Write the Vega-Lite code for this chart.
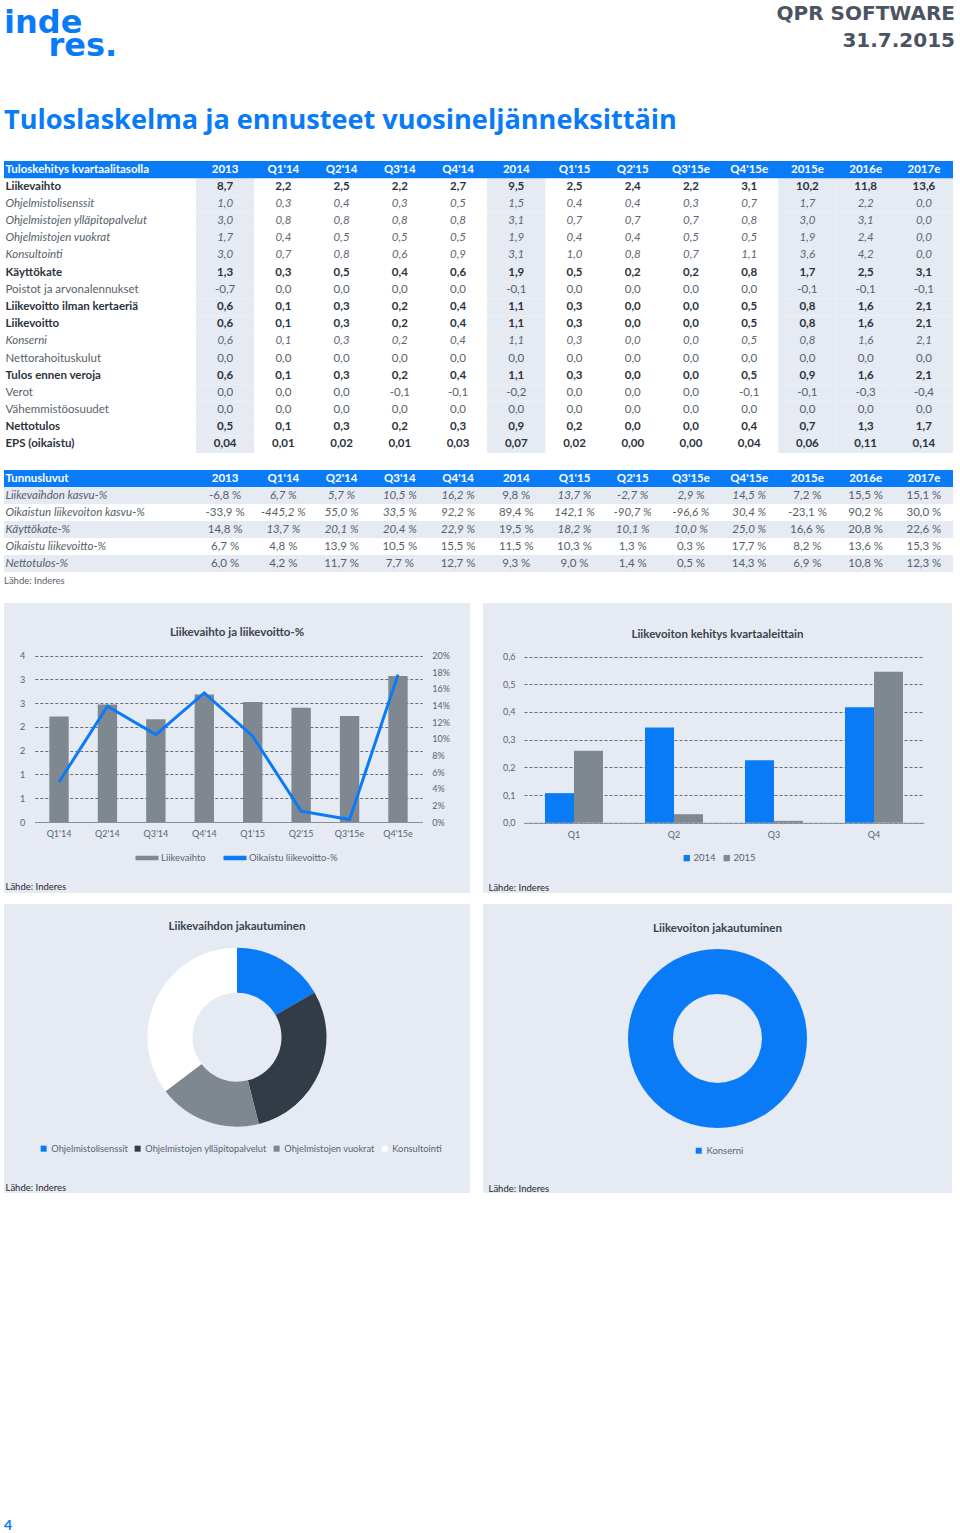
{
  "$schema": "https://vega.github.io/schema/vega-lite/v6.json",
  "padding": {"top": 3, "left": 4, "right": 0, "bottom": 0},
  "background": "white",
  "spacing": 17,
  "resolve": {"scale": {"color": "independent"}, "legend": {"color": "independent"}},
  "config": {
    "font": "Lato",
    "view": {"stroke": null},
    "locale": {"number": {"decimal": ",", "thousands": "\u00a0", "grouping": [3], "currency": ["", "\u00a0€"], "minus": "-", "percent": "\u00a0%"}}
  },
  "vconcat": [
    {
      "spacing": 13,
      "resolve": {"scale": {"color": "independent"}, "legend": {"color": "independent"}},
      "hconcat": [
        {
          "width": 470, "height": 28,
          "data": {"values": []},
          "mark": "text",
          "encoding": {},
          "title": {"text": ["inde", "\u200b\u00a0\u00a0\u00a0\u00a0res."], "anchor": "start", "frame": "group", "font": "DejaVu Sans", "fontSize": 32, "fontWeight": "bold", "color": "#0a7bf7", "lineHeight": 23.3, "offset": 0, "dy": 2}
        },
        {
          "width": 468, "height": 28,
          "data": {"values": []},
          "mark": "text",
          "encoding": {},
          "title": {"text": ["QPR SOFTWARE", "31.7.2015"], "anchor": "end", "frame": "group", "font": "DejaVu Sans", "fontSize": 20, "fontWeight": "bold", "color": "#4b5460", "lineHeight": 27.4, "offset": 10}
        }
      ]
    },
    {
      "width": 949, "height": 292,
      "title": {"text": "Tuloslaskelma ja ennusteet vuosineljänneksittäin", "anchor": "start", "frame": "group", "font": "Open Sans", "fontSize": 27.1, "fontWeight": "bold", "color": "#0a7bf7", "offset": 26},
      "data": {"values": [
        {"i":"Liikevaihto","p":"2013","v":8.7},{"i":"Liikevaihto","p":"Q1'14","v":2.2},{"i":"Liikevaihto","p":"Q2'14","v":2.5},{"i":"Liikevaihto","p":"Q3'14","v":2.2},{"i":"Liikevaihto","p":"Q4'14","v":2.7},{"i":"Liikevaihto","p":"2014","v":9.5},{"i":"Liikevaihto","p":"Q1'15","v":2.5},{"i":"Liikevaihto","p":"Q2'15","v":2.4},{"i":"Liikevaihto","p":"Q3'15e","v":2.2},{"i":"Liikevaihto","p":"Q4'15e","v":3.1},{"i":"Liikevaihto","p":"2015e","v":10.2},{"i":"Liikevaihto","p":"2016e","v":11.8},{"i":"Liikevaihto","p":"2017e","v":13.6},
        {"i":"Ohjelmistolisenssit","p":"2013","v":1.0},{"i":"Ohjelmistolisenssit","p":"Q1'14","v":0.3},{"i":"Ohjelmistolisenssit","p":"Q2'14","v":0.4},{"i":"Ohjelmistolisenssit","p":"Q3'14","v":0.3},{"i":"Ohjelmistolisenssit","p":"Q4'14","v":0.5},{"i":"Ohjelmistolisenssit","p":"2014","v":1.5},{"i":"Ohjelmistolisenssit","p":"Q1'15","v":0.4},{"i":"Ohjelmistolisenssit","p":"Q2'15","v":0.4},{"i":"Ohjelmistolisenssit","p":"Q3'15e","v":0.3},{"i":"Ohjelmistolisenssit","p":"Q4'15e","v":0.7},{"i":"Ohjelmistolisenssit","p":"2015e","v":1.7},{"i":"Ohjelmistolisenssit","p":"2016e","v":2.2},{"i":"Ohjelmistolisenssit","p":"2017e","v":0.0},
        {"i":"Ohjelmistojen ylläpitopalvelut","p":"2013","v":3.0},{"i":"Ohjelmistojen ylläpitopalvelut","p":"Q1'14","v":0.8},{"i":"Ohjelmistojen ylläpitopalvelut","p":"Q2'14","v":0.8},{"i":"Ohjelmistojen ylläpitopalvelut","p":"Q3'14","v":0.8},{"i":"Ohjelmistojen ylläpitopalvelut","p":"Q4'14","v":0.8},{"i":"Ohjelmistojen ylläpitopalvelut","p":"2014","v":3.1},{"i":"Ohjelmistojen ylläpitopalvelut","p":"Q1'15","v":0.7},{"i":"Ohjelmistojen ylläpitopalvelut","p":"Q2'15","v":0.7},{"i":"Ohjelmistojen ylläpitopalvelut","p":"Q3'15e","v":0.7},{"i":"Ohjelmistojen ylläpitopalvelut","p":"Q4'15e","v":0.8},{"i":"Ohjelmistojen ylläpitopalvelut","p":"2015e","v":3.0},{"i":"Ohjelmistojen ylläpitopalvelut","p":"2016e","v":3.1},{"i":"Ohjelmistojen ylläpitopalvelut","p":"2017e","v":0.0},
        {"i":"Ohjelmistojen vuokrat","p":"2013","v":1.7},{"i":"Ohjelmistojen vuokrat","p":"Q1'14","v":0.4},{"i":"Ohjelmistojen vuokrat","p":"Q2'14","v":0.5},{"i":"Ohjelmistojen vuokrat","p":"Q3'14","v":0.5},{"i":"Ohjelmistojen vuokrat","p":"Q4'14","v":0.5},{"i":"Ohjelmistojen vuokrat","p":"2014","v":1.9},{"i":"Ohjelmistojen vuokrat","p":"Q1'15","v":0.4},{"i":"Ohjelmistojen vuokrat","p":"Q2'15","v":0.4},{"i":"Ohjelmistojen vuokrat","p":"Q3'15e","v":0.5},{"i":"Ohjelmistojen vuokrat","p":"Q4'15e","v":0.5},{"i":"Ohjelmistojen vuokrat","p":"2015e","v":1.9},{"i":"Ohjelmistojen vuokrat","p":"2016e","v":2.4},{"i":"Ohjelmistojen vuokrat","p":"2017e","v":0.0},
        {"i":"Konsultointi","p":"2013","v":3.0},{"i":"Konsultointi","p":"Q1'14","v":0.7},{"i":"Konsultointi","p":"Q2'14","v":0.8},{"i":"Konsultointi","p":"Q3'14","v":0.6},{"i":"Konsultointi","p":"Q4'14","v":0.9},{"i":"Konsultointi","p":"2014","v":3.1},{"i":"Konsultointi","p":"Q1'15","v":1.0},{"i":"Konsultointi","p":"Q2'15","v":0.8},{"i":"Konsultointi","p":"Q3'15e","v":0.7},{"i":"Konsultointi","p":"Q4'15e","v":1.1},{"i":"Konsultointi","p":"2015e","v":3.6},{"i":"Konsultointi","p":"2016e","v":4.2},{"i":"Konsultointi","p":"2017e","v":0.0},
        {"i":"Käyttökate","p":"2013","v":1.3},{"i":"Käyttökate","p":"Q1'14","v":0.3},{"i":"Käyttökate","p":"Q2'14","v":0.5},{"i":"Käyttökate","p":"Q3'14","v":0.4},{"i":"Käyttökate","p":"Q4'14","v":0.6},{"i":"Käyttökate","p":"2014","v":1.9},{"i":"Käyttökate","p":"Q1'15","v":0.5},{"i":"Käyttökate","p":"Q2'15","v":0.2},{"i":"Käyttökate","p":"Q3'15e","v":0.2},{"i":"Käyttökate","p":"Q4'15e","v":0.8},{"i":"Käyttökate","p":"2015e","v":1.7},{"i":"Käyttökate","p":"2016e","v":2.5},{"i":"Käyttökate","p":"2017e","v":3.1},
        {"i":"Poistot ja arvonalennukset","p":"2013","v":-0.7},{"i":"Poistot ja arvonalennukset","p":"Q1'14","v":0.0},{"i":"Poistot ja arvonalennukset","p":"Q2'14","v":0.0},{"i":"Poistot ja arvonalennukset","p":"Q3'14","v":0.0},{"i":"Poistot ja arvonalennukset","p":"Q4'14","v":0.0},{"i":"Poistot ja arvonalennukset","p":"2014","v":-0.1},{"i":"Poistot ja arvonalennukset","p":"Q1'15","v":0.0},{"i":"Poistot ja arvonalennukset","p":"Q2'15","v":0.0},{"i":"Poistot ja arvonalennukset","p":"Q3'15e","v":0.0},{"i":"Poistot ja arvonalennukset","p":"Q4'15e","v":0.0},{"i":"Poistot ja arvonalennukset","p":"2015e","v":-0.1},{"i":"Poistot ja arvonalennukset","p":"2016e","v":-0.1},{"i":"Poistot ja arvonalennukset","p":"2017e","v":-0.1},
        {"i":"Liikevoitto ilman kertaeriä","p":"2013","v":0.6},{"i":"Liikevoitto ilman kertaeriä","p":"Q1'14","v":0.1},{"i":"Liikevoitto ilman kertaeriä","p":"Q2'14","v":0.3},{"i":"Liikevoitto ilman kertaeriä","p":"Q3'14","v":0.2},{"i":"Liikevoitto ilman kertaeriä","p":"Q4'14","v":0.4},{"i":"Liikevoitto ilman kertaeriä","p":"2014","v":1.1},{"i":"Liikevoitto ilman kertaeriä","p":"Q1'15","v":0.3},{"i":"Liikevoitto ilman kertaeriä","p":"Q2'15","v":0.0},{"i":"Liikevoitto ilman kertaeriä","p":"Q3'15e","v":0.0},{"i":"Liikevoitto ilman kertaeriä","p":"Q4'15e","v":0.5},{"i":"Liikevoitto ilman kertaeriä","p":"2015e","v":0.8},{"i":"Liikevoitto ilman kertaeriä","p":"2016e","v":1.6},{"i":"Liikevoitto ilman kertaeriä","p":"2017e","v":2.1},
        {"i":"Liikevoitto","p":"2013","v":0.6},{"i":"Liikevoitto","p":"Q1'14","v":0.1},{"i":"Liikevoitto","p":"Q2'14","v":0.3},{"i":"Liikevoitto","p":"Q3'14","v":0.2},{"i":"Liikevoitto","p":"Q4'14","v":0.4},{"i":"Liikevoitto","p":"2014","v":1.1},{"i":"Liikevoitto","p":"Q1'15","v":0.3},{"i":"Liikevoitto","p":"Q2'15","v":0.0},{"i":"Liikevoitto","p":"Q3'15e","v":0.0},{"i":"Liikevoitto","p":"Q4'15e","v":0.5},{"i":"Liikevoitto","p":"2015e","v":0.8},{"i":"Liikevoitto","p":"2016e","v":1.6},{"i":"Liikevoitto","p":"2017e","v":2.1},
        {"i":"Konserni","p":"2013","v":0.6},{"i":"Konserni","p":"Q1'14","v":0.1},{"i":"Konserni","p":"Q2'14","v":0.3},{"i":"Konserni","p":"Q3'14","v":0.2},{"i":"Konserni","p":"Q4'14","v":0.4},{"i":"Konserni","p":"2014","v":1.1},{"i":"Konserni","p":"Q1'15","v":0.3},{"i":"Konserni","p":"Q2'15","v":0.0},{"i":"Konserni","p":"Q3'15e","v":0.0},{"i":"Konserni","p":"Q4'15e","v":0.5},{"i":"Konserni","p":"2015e","v":0.8},{"i":"Konserni","p":"2016e","v":1.6},{"i":"Konserni","p":"2017e","v":2.1},
        {"i":"Nettorahoituskulut","p":"2013","v":0.0},{"i":"Nettorahoituskulut","p":"Q1'14","v":0.0},{"i":"Nettorahoituskulut","p":"Q2'14","v":0.0},{"i":"Nettorahoituskulut","p":"Q3'14","v":0.0},{"i":"Nettorahoituskulut","p":"Q4'14","v":0.0},{"i":"Nettorahoituskulut","p":"2014","v":0.0},{"i":"Nettorahoituskulut","p":"Q1'15","v":0.0},{"i":"Nettorahoituskulut","p":"Q2'15","v":0.0},{"i":"Nettorahoituskulut","p":"Q3'15e","v":0.0},{"i":"Nettorahoituskulut","p":"Q4'15e","v":0.0},{"i":"Nettorahoituskulut","p":"2015e","v":0.0},{"i":"Nettorahoituskulut","p":"2016e","v":0.0},{"i":"Nettorahoituskulut","p":"2017e","v":0.0},
        {"i":"Tulos ennen veroja","p":"2013","v":0.6},{"i":"Tulos ennen veroja","p":"Q1'14","v":0.1},{"i":"Tulos ennen veroja","p":"Q2'14","v":0.3},{"i":"Tulos ennen veroja","p":"Q3'14","v":0.2},{"i":"Tulos ennen veroja","p":"Q4'14","v":0.4},{"i":"Tulos ennen veroja","p":"2014","v":1.1},{"i":"Tulos ennen veroja","p":"Q1'15","v":0.3},{"i":"Tulos ennen veroja","p":"Q2'15","v":0.0},{"i":"Tulos ennen veroja","p":"Q3'15e","v":0.0},{"i":"Tulos ennen veroja","p":"Q4'15e","v":0.5},{"i":"Tulos ennen veroja","p":"2015e","v":0.9},{"i":"Tulos ennen veroja","p":"2016e","v":1.6},{"i":"Tulos ennen veroja","p":"2017e","v":2.1},
        {"i":"Verot","p":"2013","v":0.0},{"i":"Verot","p":"Q1'14","v":0.0},{"i":"Verot","p":"Q2'14","v":0.0},{"i":"Verot","p":"Q3'14","v":-0.1},{"i":"Verot","p":"Q4'14","v":-0.1},{"i":"Verot","p":"2014","v":-0.2},{"i":"Verot","p":"Q1'15","v":0.0},{"i":"Verot","p":"Q2'15","v":0.0},{"i":"Verot","p":"Q3'15e","v":0.0},{"i":"Verot","p":"Q4'15e","v":-0.1},{"i":"Verot","p":"2015e","v":-0.1},{"i":"Verot","p":"2016e","v":-0.3},{"i":"Verot","p":"2017e","v":-0.4},
        {"i":"Vähemmistöosuudet","p":"2013","v":0.0},{"i":"Vähemmistöosuudet","p":"Q1'14","v":0.0},{"i":"Vähemmistöosuudet","p":"Q2'14","v":0.0},{"i":"Vähemmistöosuudet","p":"Q3'14","v":0.0},{"i":"Vähemmistöosuudet","p":"Q4'14","v":0.0},{"i":"Vähemmistöosuudet","p":"2014","v":0.0},{"i":"Vähemmistöosuudet","p":"Q1'15","v":0.0},{"i":"Vähemmistöosuudet","p":"Q2'15","v":0.0},{"i":"Vähemmistöosuudet","p":"Q3'15e","v":0.0},{"i":"Vähemmistöosuudet","p":"Q4'15e","v":0.0},{"i":"Vähemmistöosuudet","p":"2015e","v":0.0},{"i":"Vähemmistöosuudet","p":"2016e","v":0.0},{"i":"Vähemmistöosuudet","p":"2017e","v":0.0},
        {"i":"Nettotulos","p":"2013","v":0.5},{"i":"Nettotulos","p":"Q1'14","v":0.1},{"i":"Nettotulos","p":"Q2'14","v":0.3},{"i":"Nettotulos","p":"Q3'14","v":0.2},{"i":"Nettotulos","p":"Q4'14","v":0.3},{"i":"Nettotulos","p":"2014","v":0.9},{"i":"Nettotulos","p":"Q1'15","v":0.2},{"i":"Nettotulos","p":"Q2'15","v":0.0},{"i":"Nettotulos","p":"Q3'15e","v":0.0},{"i":"Nettotulos","p":"Q4'15e","v":0.4},{"i":"Nettotulos","p":"2015e","v":0.7},{"i":"Nettotulos","p":"2016e","v":1.3},{"i":"Nettotulos","p":"2017e","v":1.7},
        {"i":"EPS (oikaistu)","p":"2013","v":0.04},{"i":"EPS (oikaistu)","p":"Q1'14","v":0.01},{"i":"EPS (oikaistu)","p":"Q2'14","v":0.02},{"i":"EPS (oikaistu)","p":"Q3'14","v":0.01},{"i":"EPS (oikaistu)","p":"Q4'14","v":0.03},{"i":"EPS (oikaistu)","p":"2014","v":0.07},{"i":"EPS (oikaistu)","p":"Q1'15","v":0.02},{"i":"EPS (oikaistu)","p":"Q2'15","v":0.0},{"i":"EPS (oikaistu)","p":"Q3'15e","v":0.0},{"i":"EPS (oikaistu)","p":"Q4'15e","v":0.04},{"i":"EPS (oikaistu)","p":"2015e","v":0.06},{"i":"EPS (oikaistu)","p":"2016e","v":0.11},{"i":"EPS (oikaistu)","p":"2017e","v":0.14}
      ]},
      "layer": [
        {
          "transform": [{"filter": {"field": "p", "oneOf": ["2013", "2014", "2015e", "2016e", "2017e"]}}],
          "mark": {"type": "rect", "color": "#e5eaf3"},
          "encoding": {
            "x": {"field": "p", "type": "nominal", "scale": {"type": "band", "domain": ["2013","Q1'14","Q2'14","Q3'14","Q4'14","2014","Q1'15","Q2'15","Q3'15e","Q4'15e","2015e","2016e","2017e"], "range": [192, 949], "paddingInner": 0, "paddingOuter": 0},
              "axis": {"orient": "top", "offset": -8.6, "title": null, "domain": false, "ticks": false, "tickSize": 0, "labelPadding": 0, "labelBaseline": "middle", "labelColor": "white", "labelFontWeight": "bold", "labelFontSize": 11.5, "labelAngle": 0, "grid": false, "zindex": 1}},
            "y": {"field": "i", "type": "nominal", "scale": {"type": "band", "domain": ["Tuloskehitys kvartaalitasolla","Liikevaihto","Ohjelmistolisenssit","Ohjelmistojen ylläpitopalvelut","Ohjelmistojen vuokrat","Konsultointi","Käyttökate","Poistot ja arvonalennukset","Liikevoitto ilman kertaeriä","Liikevoitto","Konserni","Nettorahoituskulut","Tulos ennen veroja","Verot","Vähemmistöosuudet","Nettotulos","EPS (oikaistu)"], "paddingInner": 0, "paddingOuter": 0},
              "axis": {"orient": "left", "offset": -1, "title": null, "domain": false, "ticks": false, "tickSize": 0, "labelPadding": 0, "labelAlign": "left", "labelBaseline": "middle", "labelFontSize": 11.5, "labelLimit": 300, "grid": false, "zindex": 1,
                "labelColor": {"condition": [{"test": "datum.value === 'Tuloskehitys kvartaalitasolla'", "value": "white"}, {"test": "indexof(['Liikevaihto','Käyttökate','Liikevoitto ilman kertaeriä','Liikevoitto','Tulos ennen veroja','Nettotulos','EPS (oikaistu)'], datum.value) >= 0", "value": "#2c333c"}], "value": "#555f6a"},
                "labelFontWeight": {"condition": {"test": "indexof(['Tuloskehitys kvartaalitasolla','Liikevaihto','Käyttökate','Liikevoitto ilman kertaeriä','Liikevoitto','Tulos ennen veroja','Nettotulos','EPS (oikaistu)'], datum.value) >= 0", "value": "bold"}, "value": "normal"},
                "labelFontStyle": {"condition": {"test": "indexof(['Ohjelmistolisenssit','Ohjelmistojen ylläpitopalvelut','Ohjelmistojen vuokrat','Konsultointi','Konserni'], datum.value) >= 0", "value": "italic"}, "value": "normal"}}}
          }
        },
        {
          "data": {"values": [{"i": "Tuloskehitys kvartaalitasolla"}]},
          "mark": {"type": "rect", "color": "#0a7bf7"},
          "encoding": {
            "y": {"field": "i", "type": "nominal", "scale": {"type": "band", "domain": ["Tuloskehitys kvartaalitasolla","Liikevaihto","Ohjelmistolisenssit","Ohjelmistojen ylläpitopalvelut","Ohjelmistojen vuokrat","Konsultointi","Käyttökate","Poistot ja arvonalennukset","Liikevoitto ilman kertaeriä","Liikevoitto","Konserni","Nettorahoituskulut","Tulos ennen veroja","Verot","Vähemmistöosuudet","Nettotulos","EPS (oikaistu)"], "paddingInner": 0, "paddingOuter": 0}}
          }
        },
        {
          "transform": [{"filter": {"field": "i", "oneOf": ["Liikevaihto","Käyttökate","Liikevoitto ilman kertaeriä","Liikevoitto","Tulos ennen veroja","Nettotulos"]}}],
          "mark": {"type": "text", "fontWeight": "bold", "color": "#2c333c", "fontSize": 11.5},
          "encoding": {
            "x": {"field": "p", "type": "nominal", "scale": {"type": "band", "domain": ["2013","Q1'14","Q2'14","Q3'14","Q4'14","2014","Q1'15","Q2'15","Q3'15e","Q4'15e","2015e","2016e","2017e"], "range": [192, 949], "paddingInner": 0, "paddingOuter": 0}},
            "y": {"field": "i", "type": "nominal", "scale": {"type": "band", "domain": ["Tuloskehitys kvartaalitasolla","Liikevaihto","Ohjelmistolisenssit","Ohjelmistojen ylläpitopalvelut","Ohjelmistojen vuokrat","Konsultointi","Käyttökate","Poistot ja arvonalennukset","Liikevoitto ilman kertaeriä","Liikevoitto","Konserni","Nettorahoituskulut","Tulos ennen veroja","Verot","Vähemmistöosuudet","Nettotulos","EPS (oikaistu)"], "paddingInner": 0, "paddingOuter": 0}},
            "text": {"field": "v", "type": "quantitative", "format": ".1f"}
          }
        },
        {
          "transform": [{"filter": {"field": "i", "equal": "EPS (oikaistu)"}}],
          "mark": {"type": "text", "fontWeight": "bold", "color": "#2c333c", "fontSize": 11.5},
          "encoding": {
            "x": {"field": "p", "type": "nominal", "scale": {"type": "band", "domain": ["2013","Q1'14","Q2'14","Q3'14","Q4'14","2014","Q1'15","Q2'15","Q3'15e","Q4'15e","2015e","2016e","2017e"], "range": [192, 949], "paddingInner": 0, "paddingOuter": 0}},
            "y": {"field": "i", "type": "nominal", "scale": {"type": "band", "domain": ["Tuloskehitys kvartaalitasolla","Liikevaihto","Ohjelmistolisenssit","Ohjelmistojen ylläpitopalvelut","Ohjelmistojen vuokrat","Konsultointi","Käyttökate","Poistot ja arvonalennukset","Liikevoitto ilman kertaeriä","Liikevoitto","Konserni","Nettorahoituskulut","Tulos ennen veroja","Verot","Vähemmistöosuudet","Nettotulos","EPS (oikaistu)"], "paddingInner": 0, "paddingOuter": 0}},
            "text": {"field": "v", "type": "quantitative", "format": ".2f"}
          }
        },
        {
          "transform": [{"filter": {"field": "i", "oneOf": ["Ohjelmistolisenssit","Ohjelmistojen ylläpitopalvelut","Ohjelmistojen vuokrat","Konsultointi","Konserni"]}}],
          "mark": {"type": "text", "fontStyle": "italic", "color": "#5d6671", "fontSize": 11.5},
          "encoding": {
            "x": {"field": "p", "type": "nominal", "scale": {"type": "band", "domain": ["2013","Q1'14","Q2'14","Q3'14","Q4'14","2014","Q1'15","Q2'15","Q3'15e","Q4'15e","2015e","2016e","2017e"], "range": [192, 949], "paddingInner": 0, "paddingOuter": 0}},
            "y": {"field": "i", "type": "nominal", "scale": {"type": "band", "domain": ["Tuloskehitys kvartaalitasolla","Liikevaihto","Ohjelmistolisenssit","Ohjelmistojen ylläpitopalvelut","Ohjelmistojen vuokrat","Konsultointi","Käyttökate","Poistot ja arvonalennukset","Liikevoitto ilman kertaeriä","Liikevoitto","Konserni","Nettorahoituskulut","Tulos ennen veroja","Verot","Vähemmistöosuudet","Nettotulos","EPS (oikaistu)"], "paddingInner": 0, "paddingOuter": 0}},
            "text": {"field": "v", "type": "quantitative", "format": ".1f"}
          }
        },
        {
          "transform": [{"filter": {"field": "i", "oneOf": ["Poistot ja arvonalennukset","Nettorahoituskulut","Verot","Vähemmistöosuudet"]}}],
          "mark": {"type": "text", "color": "#555f6a", "fontSize": 11.5},
          "encoding": {
            "x": {"field": "p", "type": "nominal", "scale": {"type": "band", "domain": ["2013","Q1'14","Q2'14","Q3'14","Q4'14","2014","Q1'15","Q2'15","Q3'15e","Q4'15e","2015e","2016e","2017e"], "range": [192, 949], "paddingInner": 0, "paddingOuter": 0}},
            "y": {"field": "i", "type": "nominal", "scale": {"type": "band", "domain": ["Tuloskehitys kvartaalitasolla","Liikevaihto","Ohjelmistolisenssit","Ohjelmistojen ylläpitopalvelut","Ohjelmistojen vuokrat","Konsultointi","Käyttökate","Poistot ja arvonalennukset","Liikevoitto ilman kertaeriä","Liikevoitto","Konserni","Nettorahoituskulut","Tulos ennen veroja","Verot","Vähemmistöosuudet","Nettotulos","EPS (oikaistu)"], "paddingInner": 0, "paddingOuter": 0}},
            "text": {"field": "v", "type": "quantitative", "format": ".1f"}
          }
        }
      ]
    },
    {
      "width": 949, "height": 102,
      "title": {"text": "Lähde: Inderes", "orient": "bottom", "anchor": "start", "frame": "group", "fontSize": 9.5, "fontWeight": "normal", "color": "#555f6a", "offset": 4},
      "data": {"values": [
        {"i":"Liikevaihdon kasvu-%","p":"2013","v":-0.068},{"i":"Liikevaihdon kasvu-%","p":"Q1'14","v":0.067},{"i":"Liikevaihdon kasvu-%","p":"Q2'14","v":0.057},{"i":"Liikevaihdon kasvu-%","p":"Q3'14","v":0.105},{"i":"Liikevaihdon kasvu-%","p":"Q4'14","v":0.162},{"i":"Liikevaihdon kasvu-%","p":"2014","v":0.098},{"i":"Liikevaihdon kasvu-%","p":"Q1'15","v":0.137},{"i":"Liikevaihdon kasvu-%","p":"Q2'15","v":-0.027},{"i":"Liikevaihdon kasvu-%","p":"Q3'15e","v":0.029},{"i":"Liikevaihdon kasvu-%","p":"Q4'15e","v":0.145},{"i":"Liikevaihdon kasvu-%","p":"2015e","v":0.072},{"i":"Liikevaihdon kasvu-%","p":"2016e","v":0.155},{"i":"Liikevaihdon kasvu-%","p":"2017e","v":0.151},
        {"i":"Oikaistun liikevoiton kasvu-%","p":"2013","v":-0.339},{"i":"Oikaistun liikevoiton kasvu-%","p":"Q1'14","v":-4.452},{"i":"Oikaistun liikevoiton kasvu-%","p":"Q2'14","v":0.55},{"i":"Oikaistun liikevoiton kasvu-%","p":"Q3'14","v":0.335},{"i":"Oikaistun liikevoiton kasvu-%","p":"Q4'14","v":0.922},{"i":"Oikaistun liikevoiton kasvu-%","p":"2014","v":0.894},{"i":"Oikaistun liikevoiton kasvu-%","p":"Q1'15","v":1.421},{"i":"Oikaistun liikevoiton kasvu-%","p":"Q2'15","v":-0.907},{"i":"Oikaistun liikevoiton kasvu-%","p":"Q3'15e","v":-0.966},{"i":"Oikaistun liikevoiton kasvu-%","p":"Q4'15e","v":0.304},{"i":"Oikaistun liikevoiton kasvu-%","p":"2015e","v":-0.231},{"i":"Oikaistun liikevoiton kasvu-%","p":"2016e","v":0.902},{"i":"Oikaistun liikevoiton kasvu-%","p":"2017e","v":0.3},
        {"i":"Käyttökate-%","p":"2013","v":0.148},{"i":"Käyttökate-%","p":"Q1'14","v":0.137},{"i":"Käyttökate-%","p":"Q2'14","v":0.201},{"i":"Käyttökate-%","p":"Q3'14","v":0.204},{"i":"Käyttökate-%","p":"Q4'14","v":0.229},{"i":"Käyttökate-%","p":"2014","v":0.195},{"i":"Käyttökate-%","p":"Q1'15","v":0.182},{"i":"Käyttökate-%","p":"Q2'15","v":0.101},{"i":"Käyttökate-%","p":"Q3'15e","v":0.1},{"i":"Käyttökate-%","p":"Q4'15e","v":0.25},{"i":"Käyttökate-%","p":"2015e","v":0.166},{"i":"Käyttökate-%","p":"2016e","v":0.208},{"i":"Käyttökate-%","p":"2017e","v":0.226},
        {"i":"Oikaistu liikevoitto-%","p":"2013","v":0.067},{"i":"Oikaistu liikevoitto-%","p":"Q1'14","v":0.048},{"i":"Oikaistu liikevoitto-%","p":"Q2'14","v":0.139},{"i":"Oikaistu liikevoitto-%","p":"Q3'14","v":0.105},{"i":"Oikaistu liikevoitto-%","p":"Q4'14","v":0.155},{"i":"Oikaistu liikevoitto-%","p":"2014","v":0.115},{"i":"Oikaistu liikevoitto-%","p":"Q1'15","v":0.103},{"i":"Oikaistu liikevoitto-%","p":"Q2'15","v":0.013},{"i":"Oikaistu liikevoitto-%","p":"Q3'15e","v":0.003},{"i":"Oikaistu liikevoitto-%","p":"Q4'15e","v":0.177},{"i":"Oikaistu liikevoitto-%","p":"2015e","v":0.082},{"i":"Oikaistu liikevoitto-%","p":"2016e","v":0.136},{"i":"Oikaistu liikevoitto-%","p":"2017e","v":0.153},
        {"i":"Nettotulos-%","p":"2013","v":0.06},{"i":"Nettotulos-%","p":"Q1'14","v":0.042},{"i":"Nettotulos-%","p":"Q2'14","v":0.117},{"i":"Nettotulos-%","p":"Q3'14","v":0.077},{"i":"Nettotulos-%","p":"Q4'14","v":0.127},{"i":"Nettotulos-%","p":"2014","v":0.093},{"i":"Nettotulos-%","p":"Q1'15","v":0.09},{"i":"Nettotulos-%","p":"Q2'15","v":0.014},{"i":"Nettotulos-%","p":"Q3'15e","v":0.005},{"i":"Nettotulos-%","p":"Q4'15e","v":0.143},{"i":"Nettotulos-%","p":"2015e","v":0.069},{"i":"Nettotulos-%","p":"2016e","v":0.108},{"i":"Nettotulos-%","p":"2017e","v":0.123}
      ]},
      "layer": [
        {
          "transform": [{"filter": {"field": "i", "oneOf": ["Liikevaihdon kasvu-%", "Käyttökate-%", "Nettotulos-%"]}}],
          "mark": {"type": "rect", "color": "#e5eaf3"},
          "encoding": {
            "y": {"field": "i", "type": "nominal", "scale": {"type": "band", "domain": ["Tunnusluvut","Liikevaihdon kasvu-%","Oikaistun liikevoiton kasvu-%","Käyttökate-%","Oikaistu liikevoitto-%","Nettotulos-%"], "paddingInner": 0, "paddingOuter": 0},
              "axis": {"orient": "left", "offset": -1, "title": null, "domain": false, "ticks": false, "tickSize": 0, "labelPadding": 0, "labelAlign": "left", "labelBaseline": "middle", "labelFontSize": 11.5, "labelLimit": 300, "grid": false, "zindex": 1,
                "labelColor": {"condition": {"test": "datum.value === 'Tunnusluvut'", "value": "white"}, "value": "#555f6a"},
                "labelFontWeight": {"condition": {"test": "datum.value === 'Tunnusluvut'", "value": "bold"}, "value": "normal"},
                "labelFontStyle": {"condition": {"test": "datum.value === 'Tunnusluvut'", "value": "normal"}, "value": "italic"}}}
          }
        },
        {
          "data": {"values": [{"i": "Tunnusluvut"}]},
          "mark": {"type": "rect", "color": "#0a7bf7"},
          "encoding": {
            "y": {"field": "i", "type": "nominal", "scale": {"type": "band", "domain": ["Tunnusluvut","Liikevaihdon kasvu-%","Oikaistun liikevoiton kasvu-%","Käyttökate-%","Oikaistu liikevoitto-%","Nettotulos-%"], "paddingInner": 0, "paddingOuter": 0}}
          }
        },
        {
          "transform": [{"filter": {"and": [{"field": "i", "oneOf": ["Liikevaihdon kasvu-%", "Oikaistun liikevoiton kasvu-%", "Käyttökate-%"]}, {"field": "p", "oneOf": ["Q1'14","Q2'14","Q3'14","Q4'14","Q1'15","Q2'15","Q3'15e","Q4'15e"]}]}}],
          "mark": {"type": "text", "fontStyle": "italic", "color": "#555f6a", "fontSize": 11.5},
          "encoding": {
            "x": {"field": "p", "type": "nominal", "scale": {"type": "band", "domain": ["2013","Q1'14","Q2'14","Q3'14","Q4'14","2014","Q1'15","Q2'15","Q3'15e","Q4'15e","2015e","2016e","2017e"], "range": [192, 949], "paddingInner": 0, "paddingOuter": 0},
              "axis": {"orient": "top", "offset": -8.5, "title": null, "domain": false, "ticks": false, "tickSize": 0, "labelPadding": 0, "labelBaseline": "middle", "labelColor": "white", "labelFontWeight": "bold", "labelFontSize": 11.5, "labelAngle": 0, "grid": false, "zindex": 1}},
            "y": {"field": "i", "type": "nominal", "scale": {"type": "band", "domain": ["Tunnusluvut","Liikevaihdon kasvu-%","Oikaistun liikevoiton kasvu-%","Käyttökate-%","Oikaistu liikevoitto-%","Nettotulos-%"], "paddingInner": 0, "paddingOuter": 0}},
            "text": {"field": "v", "type": "quantitative", "format": ".1%"}
          }
        },
        {
          "transform": [{"filter": {"not": {"and": [{"field": "i", "oneOf": ["Liikevaihdon kasvu-%", "Oikaistun liikevoiton kasvu-%", "Käyttökate-%"]}, {"field": "p", "oneOf": ["Q1'14","Q2'14","Q3'14","Q4'14","Q1'15","Q2'15","Q3'15e","Q4'15e"]}]}}}],
          "mark": {"type": "text", "color": "#555f6a", "fontSize": 11.5},
          "encoding": {
            "x": {"field": "p", "type": "nominal", "scale": {"type": "band", "domain": ["2013","Q1'14","Q2'14","Q3'14","Q4'14","2014","Q1'15","Q2'15","Q3'15e","Q4'15e","2015e","2016e","2017e"], "range": [192, 949], "paddingInner": 0, "paddingOuter": 0}},
            "y": {"field": "i", "type": "nominal", "scale": {"type": "band", "domain": ["Tunnusluvut","Liikevaihdon kasvu-%","Oikaistun liikevoiton kasvu-%","Käyttökate-%","Oikaistu liikevoitto-%","Nettotulos-%"], "paddingInner": 0, "paddingOuter": 0}},
            "text": {"field": "v", "type": "quantitative", "format": ".1%"}
          }
        }
      ]
    },
    {
      "spacing": 11,
      "resolve": {"scale": {"color": "independent"}, "legend": {"color": "independent"}},
      "vconcat": [
        {
          "spacing": 13,
          "resolve": {"scale": {"color": "independent"}, "legend": {"color": "independent"}},
          "hconcat": [
            {
              "width": 466, "height": 290,
              "view": {"fill": "#e5eaf3", "stroke": null},
              "title": {"text": "Liikevaihto ja liikevoitto-%", "anchor": "middle", "frame": "group", "fontSize": 11.5, "fontWeight": "bold", "color": "#3a434d", "offset": -35},
              "data": {"values": [
                {"q": "Q1'14", "lv": 2.22, "pct": 4.8},
                {"q": "Q2'14", "lv": 2.47, "pct": 13.9},
                {"q": "Q3'14", "lv": 2.16, "pct": 10.5},
                {"q": "Q4'14", "lv": 2.68, "pct": 15.5},
                {"q": "Q1'15", "lv": 2.52, "pct": 10.3},
                {"q": "Q2'15", "lv": 2.4, "pct": 1.3},
                {"q": "Q3'15e", "lv": 2.23, "pct": 0.3},
                {"q": "Q4'15e", "lv": 3.07, "pct": 17.7}
              ]},
              "encoding": {
                "x": {"field": "q", "type": "nominal", "sort": null, "scale": {"type": "band", "range": [30.8, 418.2], "paddingInner": 0.6, "paddingOuter": 0.3},
                  "axis": {"orient": "bottom", "offset": -71, "title": "Lähde: Inderes", "titleX": 1, "titleY": 64.3, "titleAlign": "left", "titleAnchor": "start", "titleBaseline": "middle", "titleFontSize": 9.5, "titleFontWeight": "normal", "titleColor": "#1f2630", "labelAngle": 0, "labelFontSize": 9, "labelColor": "#5a6470", "labelPadding": 7.5, "ticks": false, "domainColor": "#8a9199", "grid": false}}
              },
              "layer": [
                {
                  "mark": {"type": "bar", "color": "#7f8891"},
                  "encoding": {
                    "y": {"field": "lv", "type": "quantitative", "scale": {"domain": [0, 3.5], "range": [219, 52.5], "nice": false},
                      "axis": {"orient": "left", "offset": -30.8, "title": null, "values": [0, 0.5, 1, 1.5, 2, 2.5, 3, 3.5], "format": ".0f", "domain": false, "ticks": false, "labelPadding": 10, "labelFontSize": 9, "labelColor": "#5a6470", "grid": true, "gridDash": [3, 2], "gridColor": "#666d75", "gridWidth": 1}},
                    "color": {"datum": "Liikevaihto", "type": "nominal", "scale": {"domain": ["Liikevaihto", "Oikaistu liikevoitto-%"], "range": ["#7f8891", "#0a7bf7"]},
                      "legend": {"orient": "none", "legendX": 129, "legendY": 241, "direction": "horizontal", "title": null, "symbolType": "stroke", "symbolSize": 529, "symbolStrokeWidth": 4.5, "labelFontSize": 9.5, "labelColor": "#5a6470", "labelOffset": 0, "columnPadding": 8,
                        "encode": {"symbols": {"update": {"stroke": {"signal": "datum.value === 'Liikevaihto' ? '#7f8891' : '#0a7bf7'"}}}}}}
                  }
                },
                {
                  "mark": {"type": "line", "color": "#0a7bf7", "strokeWidth": 3},
                  "encoding": {
                    "y": {"field": "pct", "type": "quantitative", "scale": {"domain": [0, 20], "range": [219, 52.5], "nice": false},
                      "axis": {"orient": "right", "offset": -47.8, "title": null, "values": [0, 2, 4, 6, 8, 10, 12, 14, 16, 18, 20], "labelExpr": "datum.value + '%'", "domain": false, "ticks": false, "labelPadding": 9.5, "labelFontSize": 9, "labelColor": "#5a6470", "grid": false}},
                    "color": {"datum": "Oikaistu liikevoitto-%", "type": "nominal"}
                  }
                }
              ],
              "resolve": {"scale": {"y": "independent"}}
            },
            {
              "width": 469, "height": 290,
              "view": {"fill": "#e5eaf3", "stroke": null},
              "title": {"text": "Liikevoiton kehitys kvartaaleittain", "anchor": "middle", "frame": "group", "fontSize": 11.5, "fontWeight": "bold", "color": "#3a434d", "offset": -37},
              "data": {"values": [
                {"q": "Q1", "year": "2014", "v": 0.107},
                {"q": "Q1", "year": "2015", "v": 0.26},
                {"q": "Q2", "year": "2014", "v": 0.344},
                {"q": "Q2", "year": "2015", "v": 0.031},
                {"q": "Q3", "year": "2014", "v": 0.226},
                {"q": "Q3", "year": "2015", "v": 0.007},
                {"q": "Q4", "year": "2014", "v": 0.417},
                {"q": "Q4", "year": "2015", "v": 0.545}
              ]},
              "mark": {"type": "bar"},
              "encoding": {
                "x": {"field": "q", "type": "nominal", "scale": {"type": "band", "range": [41, 441], "paddingInner": 0.42, "paddingOuter": 0.21},
                  "axis": {"orient": "bottom", "offset": -70.2, "title": "Lähde: Inderes", "titleX": 5, "titleY": 64.7, "titleAlign": "left", "titleAnchor": "start", "titleBaseline": "middle", "titleFontSize": 9.5, "titleFontWeight": "normal", "titleColor": "#1f2630", "labelAngle": 0, "labelFontSize": 9, "labelColor": "#5a6470", "labelPadding": 7.5, "ticks": false, "domainColor": "#8a9199", "grid": false}},
                "xOffset": {"field": "year", "type": "nominal", "scale": {"paddingInner": 0, "paddingOuter": 0}},
                "y": {"field": "v", "type": "quantitative", "scale": {"domain": [0, 0.6], "range": [219.8, 53.5], "nice": false},
                  "axis": {"orient": "left", "offset": -41, "title": null, "values": [0, 0.1, 0.2, 0.3, 0.4, 0.5, 0.6], "format": ".1f", "domain": false, "ticks": false, "labelPadding": 9, "labelFontSize": 9, "labelColor": "#5a6470", "grid": true, "gridDash": [3, 2], "gridColor": "#666d75", "gridWidth": 1}},
                "color": {"field": "year", "type": "nominal", "scale": {"domain": ["2014", "2015"], "range": ["#0a7bf7", "#7f8891"]},
                  "legend": {"orient": "none", "legendX": 199, "legendY": 250, "direction": "horizontal", "title": null, "symbolType": "square", "symbolSize": 40, "symbolStrokeWidth": 0, "labelFontSize": 9.5, "labelColor": "#5a6470", "labelOffset": 2, "columnPadding": 6}}
              }
            }
          ]
        },
        {
          "spacing": 13,
          "resolve": {"scale": {"color": "independent"}, "legend": {"color": "independent"}},
          "hconcat": [
            {
              "width": 466, "height": 289,
              "view": {"fill": "#e5eaf3", "stroke": null},
              "title": {"text": "Liikevaihdon jakautuminen", "anchor": "middle", "frame": "group", "fontSize": 11.5, "fontWeight": "bold", "color": "#3a434d", "offset": -28},
              "data": {"values": [
                {"seg": "Ohjelmistolisenssit", "v": 1.7},
                {"seg": "Ohjelmistojen ylläpitopalvelut", "v": 3.0},
                {"seg": "Ohjelmistojen vuokrat", "v": 1.9},
                {"seg": "Konsultointi", "v": 3.6}
              ]},
              "mark": {"type": "arc", "outerRadius": 89.5, "innerRadius": 44.5},
              "encoding": {
                "theta": {"field": "v", "type": "quantitative", "stack": true},
                "order": {"field": "seg", "sort": "descending"},
                "color": {"field": "seg", "type": "nominal", "scale": {"domain": ["Ohjelmistolisenssit", "Ohjelmistojen ylläpitopalvelut", "Ohjelmistojen vuokrat", "Konsultointi"], "range": ["#0a7bf7", "#323c46", "#7f8891", "#ffffff"]},
                  "legend": {"orient": "none", "legendX": 35, "legendY": 240, "direction": "horizontal", "title": null, "symbolType": "square", "symbolSize": 36, "symbolStrokeWidth": 0, "labelFontSize": 9.3, "labelColor": "#5a6470", "labelOffset": 3, "columnPadding": 5, "labelLimit": 300}},
                "x": {"datum": "Liikevaihto 2015e", "type": "nominal", "scale": {"range": [0, 466]},
                  "axis": {"orient": "bottom", "labels": false, "ticks": false, "domain": false, "grid": false, "title": "Lähde: Inderes", "titleX": 1, "titleY": -5.5, "titleAlign": "left", "titleAnchor": "start", "titleBaseline": "middle", "titleFontSize": 9.5, "titleFontWeight": "normal", "titleColor": "#1f2630"}},
                "y": {"datum": "Liikevaihto 2015e", "type": "nominal", "scale": {"range": [0, 266.4]}, "axis": null}
              }
            },
            {
              "width": 469, "height": 289,
              "view": {"fill": "#e5eaf3", "stroke": null},
              "title": {"text": "Liikevoiton jakautuminen", "anchor": "middle", "frame": "group", "fontSize": 11.5, "fontWeight": "bold", "color": "#3a434d", "offset": -30},
              "data": {"values": [
                {"seg": "Konserni", "v": 0.8}
              ]},
              "mark": {"type": "arc", "outerRadius": 89.5, "innerRadius": 44.5},
              "encoding": {
                "theta": {"field": "v", "type": "quantitative", "stack": true},
                "color": {"field": "seg", "type": "nominal", "scale": {"domain": ["Konserni"], "range": ["#0a7bf7"]},
                  "legend": {"orient": "none", "legendX": 211, "legendY": 242, "direction": "horizontal", "title": null, "symbolType": "square", "symbolSize": 36, "symbolStrokeWidth": 0, "labelFontSize": 9.5, "labelColor": "#5a6470", "labelOffset": 3}},
                "x": {"datum": "Liikevoitto 2015e", "type": "nominal", "scale": {"range": [0, 469]},
                  "axis": {"orient": "bottom", "labels": false, "ticks": false, "domain": false, "grid": false, "title": "Lähde: Inderes", "titleX": 5, "titleY": -4.5, "titleAlign": "left", "titleAnchor": "start", "titleBaseline": "middle", "titleFontSize": 9.5, "titleFontWeight": "normal", "titleColor": "#1f2630"}},
                "y": {"datum": "Liikevoitto 2015e", "type": "nominal", "scale": {"range": [0, 269]}, "axis": null}
              }
            }
          ]
        }
      ]
    },
    {
      "width": 100, "height": 307,
      "data": {"values": []},
      "mark": "text",
      "encoding": {},
      "title": {"text": "4", "orient": "bottom", "anchor": "start", "frame": "group", "fontSize": 14, "fontWeight": "bold", "color": "#0a7bf7", "offset": 2}
    }
  ]
}
